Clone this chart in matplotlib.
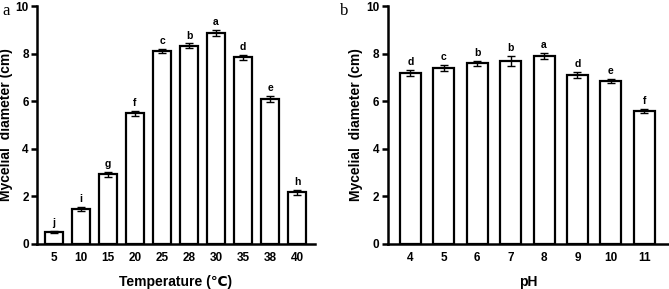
import matplotlib
matplotlib.use("Agg")
import matplotlib.pyplot as plt
import numpy as np

temp_labels = ["5", "10", "15", "20", "25", "28", "30", "35", "38", "40"]
temp_values = [0.50, 1.47, 2.93, 5.49, 8.11, 8.33, 8.86, 7.85, 6.10, 2.17]
temp_err = [0.06, 0.10, 0.10, 0.10, 0.08, 0.10, 0.12, 0.10, 0.12, 0.10]
temp_sig = ["j", "i", "g", "f", "c", "b", "a", "d", "e", "h"]

ph_labels = ["4", "5", "6", "7", "8", "9", "10", "11"]
ph_values = [7.20, 7.41, 7.59, 7.69, 7.90, 7.10, 6.86, 5.60]
ph_err = [0.12, 0.12, 0.12, 0.20, 0.12, 0.12, 0.08, 0.08]
ph_sig = ["d", "c", "b", "b", "a", "d", "e", "f"]

plt.rcParams['font.family'] = ['Liberation Sans', 'DejaVu Sans']
plt.rcParams['font.weight'] = 'bold'

fig = plt.figure(figsize=(6.69, 2.89), dpi=100)
ax1 = fig.add_axes([0.0553, 0.156, 0.4157, 0.823])
ax2 = fig.add_axes([0.5795, 0.156, 0.4195, 0.823])


def draw(ax, labels, values, errs, sig, xlabel, width, xlim):
    x = np.arange(len(labels))
    ax.bar(x, values, width=width, color='white', edgecolor='black', linewidth=1.6, zorder=2)
    ax.errorbar(x, values, yerr=errs, fmt='none', ecolor='black', elinewidth=1.0,
                capsize=3, capthick=1.0, zorder=3)
    for xi, v, e, s in zip(x, values, errs, sig):
        ax.text(xi, v + e + 0.12, s, ha='center', va='bottom', fontsize=7.5, fontweight='bold')
    ax.set_xlim(*xlim)
    ax.set_ylim(0, 10)
    ax.set_yticks([0, 2, 4, 6, 8, 10])
    ax.set_xticks(x)
    ax.set_xticklabels(labels)
    for s in ['top', 'right']:
        ax.spines[s].set_visible(False)
    for s in ['left', 'bottom']:
        ax.spines[s].set_linewidth(1.8)
    ax.tick_params(axis='y', direction='out', length=4, width=1.8, labelsize=8.5, pad=2)
    ax.tick_params(axis='x', length=0, labelsize=8.5, pad=6)
    for lab in ax.get_xticklabels() + ax.get_yticklabels():
        lab.set_fontweight('bold')
    ax.set_ylabel('Mycelial  diameter (cm)', fontsize=10, fontweight='bold', labelpad=2)
    ax.set_xlabel(xlabel, fontsize=10, fontweight='bold', labelpad=8)


draw(ax1, temp_labels, temp_values, temp_err, temp_sig, 'Temperature (\u2103)', 0.67, (-0.63, 9.67))
draw(ax2, ph_labels, ph_values, ph_err, ph_sig, 'pH', 0.63, (-0.68, 7.72))

fig.text(0.004, 0.962, 'a', fontsize=12, family='Liberation Serif', fontweight='normal', va='center')
fig.text(0.508, 0.962, 'b', fontsize=12, family='Liberation Serif', fontweight='normal', va='center')

fig.savefig('out.png', dpi=100)
